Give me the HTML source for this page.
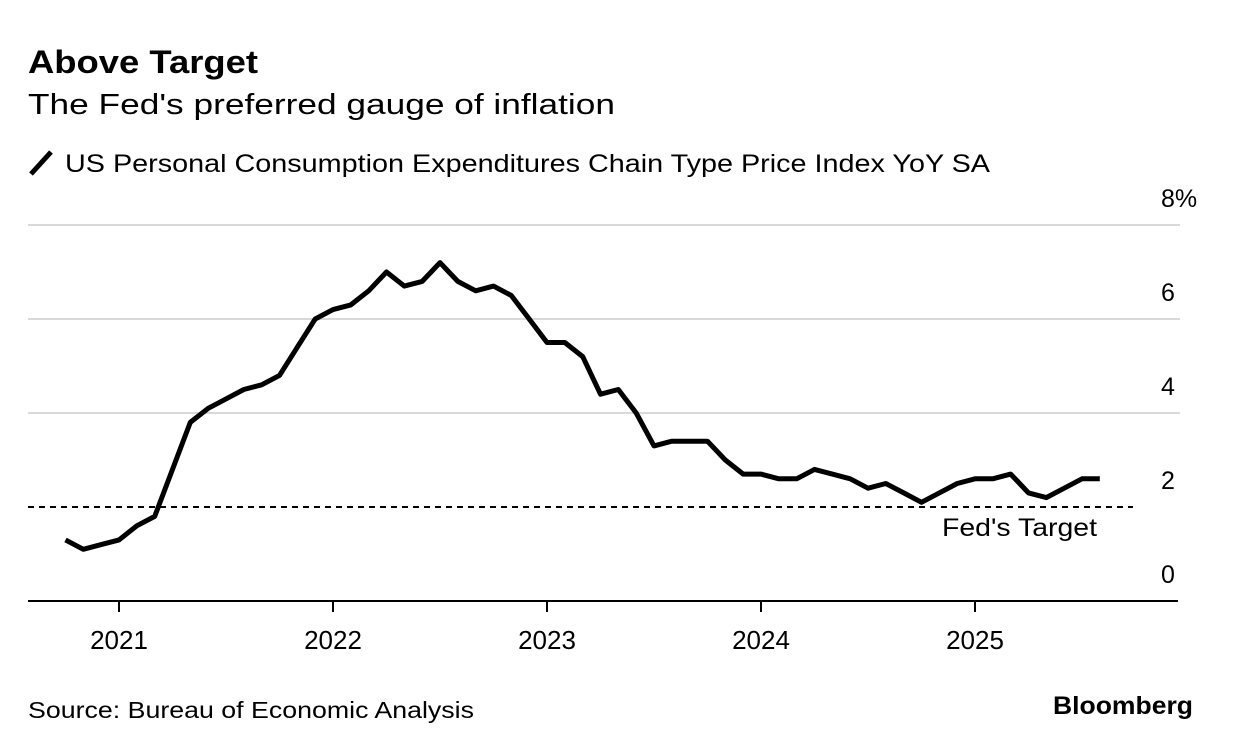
<!DOCTYPE html>
<html><head><meta charset="utf-8"><style>
body{margin:0;background:#fff;width:1233px;height:750px;overflow:hidden;font-family:"Liberation Sans",sans-serif;}
svg{display:block}
</style></head><body>
<svg width="1233" height="750">
<text x="28" y="73" font-size="32" font-weight="bold" fill="#000" textLength="230" lengthAdjust="spacingAndGlyphs">Above Target</text>
<text x="28" y="114" font-size="29" fill="#000" textLength="587" lengthAdjust="spacingAndGlyphs">The Fed's preferred gauge of inflation</text>
<g>
<line x1="31" y1="174" x2="51" y2="152" stroke="#000" stroke-width="5"/>
<text x="65" y="172" font-size="25" fill="#000" textLength="925" lengthAdjust="spacingAndGlyphs">US Personal Consumption Expenditures Chain Type Price Index YoY SA</text>
</g>
<g id="grid"></g>
<g id="axes"></g>
<path id="line" fill="none" stroke="#000" stroke-width="5" stroke-linejoin="round"/>
<text x="28" y="718" font-size="23" fill="#000" textLength="446" lengthAdjust="spacingAndGlyphs">Source: Bureau of Economic Analysis</text>
<text x="1053" y="714" font-size="25" font-weight="bold" fill="#000" textLength="140" lengthAdjust="spacingAndGlyphs">Bloomberg</text>
</svg>
<script>
const startMonthOffset = -3; // Oct 2020 relative to Jan 2021
const values = [1.3,1.1,1.2,1.3,1.6,1.8,2.8,3.8,4.1,4.3,4.5,4.6,4.8,5.4,6.0,6.2,6.3,6.6,7.0,6.7,6.8,7.2,6.8,6.6,6.7,6.5,6.0,5.5,5.5,5.2,4.4,4.5,4.0,3.3,3.4,3.4,3.4,3.0,2.7,2.7,2.6,2.6,2.8,2.7,2.6,2.4,2.5,2.3,2.1,2.3,2.5,2.6,2.6,2.7,2.3,2.2,2.4,2.6,2.6];
const yTicks = [0,2,4,6,8];
const yTickLabels = ["0","2","4","6","8%"];
const years = [2021,2022,2023,2024,2025];
const target = 2;
const NS="http://www.w3.org/2000/svg";
const x = m => 119 + m*214/12;
const y = v => 601 - v*47;
const grid=document.getElementById('grid'), axes=document.getElementById('axes');
function mk(tag,attrs,parent){const e=document.createElementNS(NS,tag);for(const k in attrs)e.setAttribute(k,attrs[k]);parent.appendChild(e);return e;}
yTicks.forEach((t,i)=>{
  if(t!==0 && t!==target){
    const l=mk('line',{x1:28,x2:1180,y1:y(t),y2:y(t),stroke:'#d9d9d9','stroke-width':2},grid);
    
    
  }
  const tx=mk('text',{x:1161,y:y(t)-18,'font-size':25,fill:'#000'},axes);
  tx.textContent=yTickLabels[i];
  
  
});
const tl=mk('line',{x1:28,x2:1133,y1:y(target),y2:y(target),stroke:'#000','stroke-width':2,'stroke-dasharray':'6,5'},grid);


const tt=mk('text',{x:942,y:y(target)+29,'font-size':25,fill:'#000',textLength:155,lengthAdjust:'spacingAndGlyphs'},grid);
tt.textContent="Fed's Target";


const base=mk('line',{x1:28,x2:1178,y1:y(0),y2:y(0),stroke:'#000','stroke-width':2},axes);


years.forEach((yr,i)=>{
  const px=x(i*12);
  const tk=mk('line',{x1:px,x2:px,y1:y(0),y2:y(0)+11,stroke:'#000','stroke-width':2},axes);
  
  
  const tx=mk('text',{x:px,y:649,'font-size':26,fill:'#000','text-anchor':'middle'},axes);
  tx.textContent=yr;
  
  
});
document.getElementById('line').setAttribute('d',values.map((v,i)=>(i?'L':'M')+x(startMonthOffset+i).toFixed(1)+','+y(v).toFixed(1)).join(''));
</script>
</body></html>
